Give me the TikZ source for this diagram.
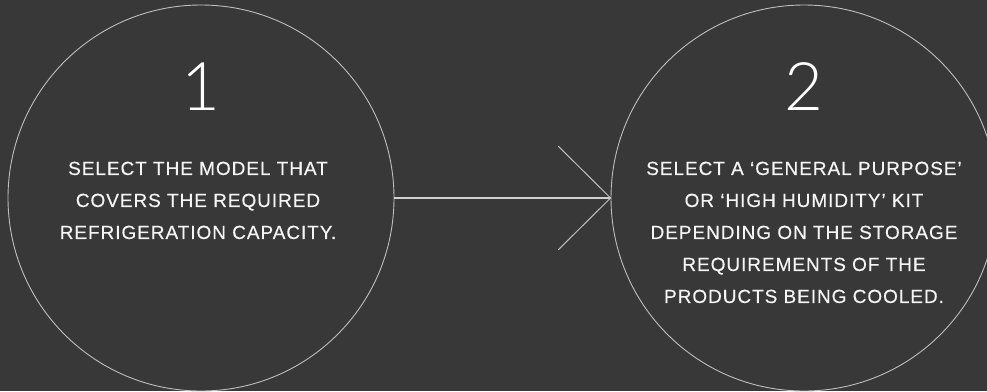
\documentclass[tikz,border=0pt]{standalone}
\usepackage{fontspec}
\setmainfont{Liberation Sans}
\newfontfamily\numfont{Lato Light}
\newfontfamily\bodyfont[LetterSpace=5,FakeBold=0.35]{Liberation Sans}
\usetikzlibrary{calc}
\definecolor{bgc}{HTML}{383838}
\definecolor{linec}{HTML}{BEBEBE}
\definecolor{arrc}{HTML}{D0D0D0}
\begin{document}
\begin{tikzpicture}[x=1pt,y=-1pt,
  ring/.style={circle, draw=linec, line width=0.9pt, minimum size=386pt, inner sep=0pt},
  numtxt/.style={text=white, font=\numfont\fontsize{67}{67}\selectfont, inner sep=0pt, anchor=base},
  bodytxt/.style={text=white!96!black, font=\bodyfont\fontsize{19}{32}\selectfont, align=center, inner sep=0pt, anchor=north},
  conn/.style={draw=arrc, line width=1.5pt},
  barb/.style={draw=linec, line width=1pt, line cap=round}]
\fill[bgc] (0,0) rectangle (987,391);
\useasboundingbox (0,0) rectangle (987,391);
\node[ring] (c1) at (201,198) {};
\node[ring] (c2) at (804,198) {};
\node[numtxt] (n1) at (201,110) {1};
\node[numtxt] (n2) at (804,110) {2};
\node[bodytxt] (t1) at (198,161.5) {SELECT THE MODEL THAT\\COVERS THE REQUIRED\\REFRIGERATION CAPACITY.};
\node[bodytxt] (t2) at (804,161.5) {SELECT A ‘GENERAL PURPOSE’\\OR ‘HIGH HUMIDITY’ KIT\\DEPENDING ON THE STORAGE\\REQUIREMENTS OF THE\\PRODUCTS BEING COOLED.};
\draw[conn] (c1.east) -- (c2.west);
\coordinate (b1) at ($(c2.west)+(-52,-51.5)$);
\coordinate (b2) at ($(c2.west)+(-52,51.5)$);
\draw[barb] (b1) -- (c2.west) -- (b2);
\end{tikzpicture}
\end{document}
